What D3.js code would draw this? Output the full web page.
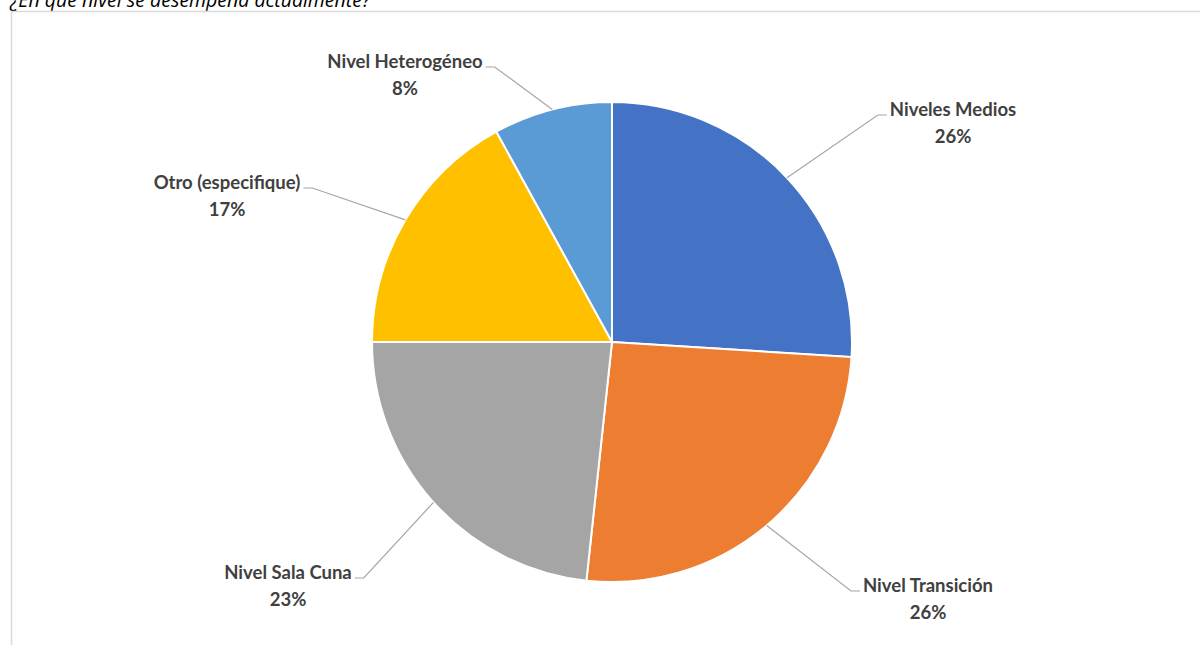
<!DOCTYPE html>
<html>
<head>
<meta charset="utf-8">
<script src="https://cdn.jsdelivr.net/npm/d3@7"></script>
<style>
  body { margin: 0; background: #fff; }
  svg { display: block; }
</style>
</head>
<body>
<div id="chart"></div>
<script>
// datos
var categorias = ["Niveles Medios", "Nivel Transición", "Nivel Sala Cuna", "Otro (especifique)", "Nivel Heterogéneo"];
var valores = [26, 25.7, 23.3, 17, 8];
var etiquetas = ["26%", "26%", "23%", "17%", "8%"];
var colores = ["#4472C4", "#ED7D31", "#A5A5A5", "#FFC000", "#5B9BD5"];

// posicion de cada etiqueta (centro del texto) y lado del codo de la linea guia
var posEtiquetas = [
  {x: 953, y: 110, lado: "izq"},
  {x: 928, y: 586, lado: "izq"},
  {x: 288, y: 573, lado: "der"},
  {x: 227, y: 183, lado: "der"},
  {x: 405, y: 62, lado: "der"}
];

const width = 1200, height = 645;
const cx = 612, cy = 342, radio = 240;
const fuente = "Lato", tam = 18.5;

const svg = d3.select("#chart").append("svg")
  .attr("width", width)
  .attr("height", height);

// titulo cortado arriba
svg.append("text")
  .attr("x", 10)
  .attr("y", 7)
  .attr("font-family", "Open Sans")
  .attr("font-style", "italic")
  .attr("font-size", 19.5)
  .attr("fill", "#000")
  .text("¿En qué nivel se desempeña actualmente?");

// marco
svg.append("path")
  .attr("d", "M11.5," + height + "V11.5H" + width)
  .attr("fill", "none")
  .attr("stroke", "#d9d9d9")
  .attr("stroke-width", 1.5);

const pie = d3.pie().sort(null).value(d => d);
const arcos = pie(valores);
const arc = d3.arc().innerRadius(0).outerRadius(radio);
const arcBorde = d3.arc().innerRadius(radio).outerRadius(radio);

const g = svg.append("g").attr("transform", "translate(" + cx + "," + cy + ")");

g.selectAll(".slice")
  .data(arcos)
  .enter().append("path")
  .attr("class", "slice")
  .attr("d", arc)
  .attr("fill", (d, i) => colores[i])
  .attr("stroke", "#fff")
  .attr("stroke-width", 2);

// lineas guia
arcos.forEach(function(d, i) {
  var p = arcBorde.centroid(d);
  var e = posEtiquetas[i];
  var tmp = svg.append("text")
    .attr("font-family", fuente).attr("font-weight", "bold").attr("font-size", tam)
    .text(categorias[i]);
  var ancho = tmp.node().getComputedTextLength();
  tmp.remove();
  var xFin = e.lado == "izq" ? e.x - ancho / 2 - 3 : e.x + ancho / 2 + 3;
  var xCodo = e.lado == "izq" ? xFin - 9 : xFin + 9;
  var yL = e.y + 5;
  svg.append("polyline")
    .attr("points", [[cx + p[0], cy + p[1]], [xCodo, yL], [xFin, yL]].map(q => q.join(",")).join(" "))
    .attr("fill", "none")
    .attr("stroke", "#a6a6a6")
    .attr("stroke-width", 1.2);
});

// etiquetas
var lbl = svg.selectAll(".lbl")
  .data(arcos)
  .enter().append("text")
  .attr("class", "lbl")
  .attr("text-anchor", "middle")
  .attr("font-family", fuente)
  .attr("font-weight", "bold")
  .attr("font-size", tam)
  .attr("fill", "#404040");
lbl.append("tspan")
  .attr("x", (d, i) => posEtiquetas[i].x)
  .attr("y", (d, i) => posEtiquetas[i].y + 6)
  .text((d, i) => categorias[i]);
lbl.append("tspan")
  .attr("x", (d, i) => posEtiquetas[i].x)
  .attr("y", (d, i) => posEtiquetas[i].y + 33)
  .text((d, i) => etiquetas[i]);
</script>
</body>
</html>
